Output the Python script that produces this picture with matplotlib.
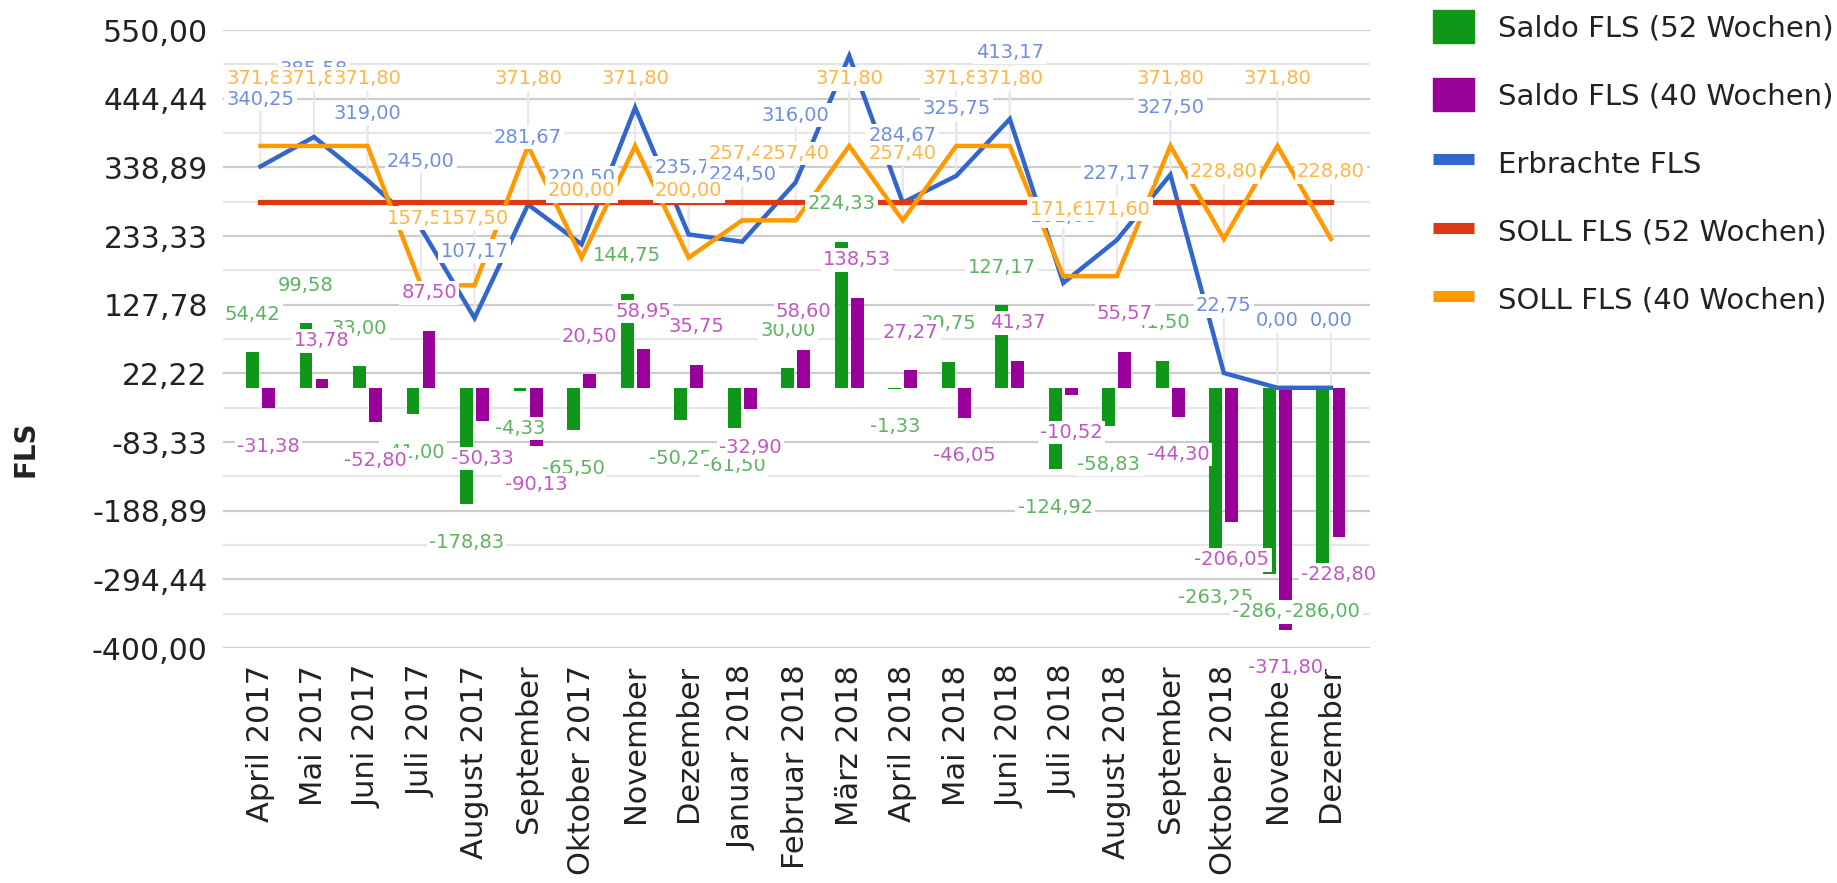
import numpy as np
import matplotlib
matplotlib.use('Agg')
import matplotlib.pyplot as plt
from matplotlib.patches import Patch
from matplotlib.lines import Line2D

plt.rcParams['font.family'] = ['DejaVu Sans']
plt.rcParams['axes.unicode_minus'] = False

monate = ['April 2017', 'Mai 2017', 'Juni 2017', 'Juli 2017', 'August 2017',
          'September', 'Oktober 2017', 'November', 'Dezember', 'Januar 2018',
          'Februar 2018', 'März 2018', 'April 2018', 'Mai 2018', 'Juni 2018',
          'Juli 2018', 'August 2018', 'September', 'Oktober 2018', 'November',
          'Dezember']

saldo_52 = [54.42, 99.58, 33.00, -41.00, -178.83, -4.33, -65.50, 144.75, -50.25,
            -61.50, 30.00, 224.33, -1.33, 39.75, 127.17, -124.92, -58.83, 41.50,
            -263.25, -286.00, -286.00]
saldo_40 = [-31.38, 13.78, -52.80, 87.50, -50.33, -90.13, 20.50, 58.95, 35.75,
            -32.90, 58.60, 138.53, 27.27, -46.05, 41.37, -10.52, 55.57, -44.30,
            -206.05, -371.80, -228.80]
erbracht = [340.25, 385.58, 319.00, 245.00, 107.17, 281.67, 220.50, 430.75, 235.75,
            224.50, 316.00, 510.33, 284.67, 325.75, 413.17, 161.08, 227.17, 327.50,
            22.75, 0.00, 0.00]
soll_52 = [286.00, 286.00, 286.00, 286.00, 286.00, 286.00, 286.00, 286.00, 286.00,
           286.00, 286.00, 286.00, 286.00, 286.00, 286.00, 286.00, 286.00, 286.00,
           286.00, 286.00, 286.00]
soll_40 = [371.80, 371.80, 371.80, 157.50, 157.50, 371.80, 200.00, 371.80, 200.00,
           257.40, 257.40, 371.80, 257.40, 371.80, 371.80, 171.60, 171.60, 371.80,
           228.80, 371.80, 228.80]

# labels google sheets did not draw (overlap / off the chart)
ohne_label_erbracht = [7, 11]

y_min, y_max = -400, 550
y_ticks = np.linspace(y_min, y_max, 10)

GRUEN = '#109618'
LILA = '#990099'
BLAU = '#3366cc'
ROT = '#dc3912'
ORANGE = '#ff9900'


def fmt(v):
    return '{:.2f}'.format(v).replace('.', ',')


fig = plt.figure(figsize=(18.37, 8.83), dpi=100)
ax = fig.add_axes([223 / 1837, 1 - 648 / 883, 1147 / 1837, 618 / 883])

x = np.arange(len(monate))
breite = 0.24
ax.bar(x - 0.15, saldo_52, breite, color=GRUEN, zorder=2)
ax.bar(x + 0.15, saldo_40, breite, color=LILA, zorder=2)

ax.plot(x, erbracht, color=BLAU, lw=3.2, zorder=3, solid_joinstyle='miter')
ax.plot(x, soll_52, color=ROT, lw=3.8, zorder=3.1)
ax.plot(x, soll_40, color=ORANGE, lw=3.2, zorder=3.2, solid_joinstyle='miter')

ax.set_xlim(-0.70, len(monate) - 1 + 0.73)
ax.set_ylim(y_min, y_max)

# gridlines
ax.set_yticks(y_ticks)
ax.set_yticks((y_ticks[:-1] + y_ticks[1:]) / 2, minor=True)
ax.yaxis.grid(True, which='major', color='#cccccc', lw=1.6, zorder=0)
ax.yaxis.grid(True, which='minor', color='#e6e6e6', lw=1.6, zorder=0)
ax.set_axisbelow(True)
ax.set_yticklabels([fmt(t) for t in y_ticks], fontsize=21.5, color='#222222')
ax.tick_params(axis='y', which='both', length=0, pad=11)

ax.set_xticks(x)
ax.set_xticklabels(monate, rotation=90, fontsize=22, color='#222222')
ax.tick_params(axis='x', length=0, pad=12)

for s in ax.spines.values():
    s.set_visible(False)

fig.text(26 / 1837, 1 - 449 / 883, 'FLS', rotation=90, ha='center', va='center',
         fontsize=20, fontweight='bold', color='#222222')

box = dict(boxstyle='square,pad=0.12', fc='white', ec='none')
LINE_OFF = 67
BAR_OFF = 38


def linien_labels(werte, farbe, auslassen=()):
    for i, v in enumerate(werte):
        if i in auslassen:
            continue
        a = ax.annotate('', xy=(i, v), xytext=(0, LINE_OFF), textcoords='offset pixels',
                        arrowprops=dict(arrowstyle='-', color='#e8e8e8', lw=1.5,
                                        shrinkA=0, shrinkB=0),
                        zorder=1.5, annotation_clip=False)
        a.arrow_patch.set_clip_box(ax.bbox)
        a.arrow_patch.set_clip_on(True)
    for i, v in enumerate(werte):
        if i in auslassen:
            continue
        ax.annotate(fmt(v), xy=(i, v), xytext=(0, LINE_OFF), textcoords='offset pixels',
                    ha='center', va='center', fontsize=14, color=farbe, bbox=box,
                    zorder=5, annotation_clip=False)


def balken_labels(werte, dx, farbe):
    for i, v in enumerate(werte):
        off = BAR_OFF if v >= 0 else -BAR_OFF
        ax.annotate(fmt(v), xy=(i + dx, v), xytext=(0, off), textcoords='offset pixels',
                    ha='center', va='center', fontsize=14, color=farbe, bbox=box,
                    zorder=5, annotation_clip=False)


linien_labels(erbracht, '#6f8fde', ohne_label_erbracht)
linien_labels(soll_40, '#ffb547')
balken_labels(saldo_52, -0.15, '#5db35f')
balken_labels(saldo_40, 0.15, '#c157c1')

handles = [
    Patch(color=GRUEN),
    Patch(color=LILA),
    Line2D([], [], color=BLAU, lw=8, solid_capstyle='butt'),
    Line2D([], [], color=ROT, lw=8, solid_capstyle='butt'),
    Line2D([], [], color=ORANGE, lw=8, solid_capstyle='butt'),
]
namen = ['Saldo FLS (52 Wochen)', 'Saldo FLS (40 Wochen)', 'Erbrachte FLS',
         'SOLL FLS (52 Wochen)', 'SOLL FLS (40 Wochen)']
fs = 21
fs_px = fs * 100 / 72
leg = fig.legend(handles, namen, loc='upper left',
                 bbox_to_anchor=(1433 / 1837, 1 - 10 / 883),
                 frameon=False, fontsize=fs, borderpad=0, borderaxespad=0,
                 handlelength=41 / fs_px, handleheight=40 / fs_px,
                 handletextpad=24 / fs_px, labelspacing=35 / fs_px)
for t in leg.get_texts():
    t.set_color('#222222')

fig.savefig('out.png', dpi=100, facecolor='white')
